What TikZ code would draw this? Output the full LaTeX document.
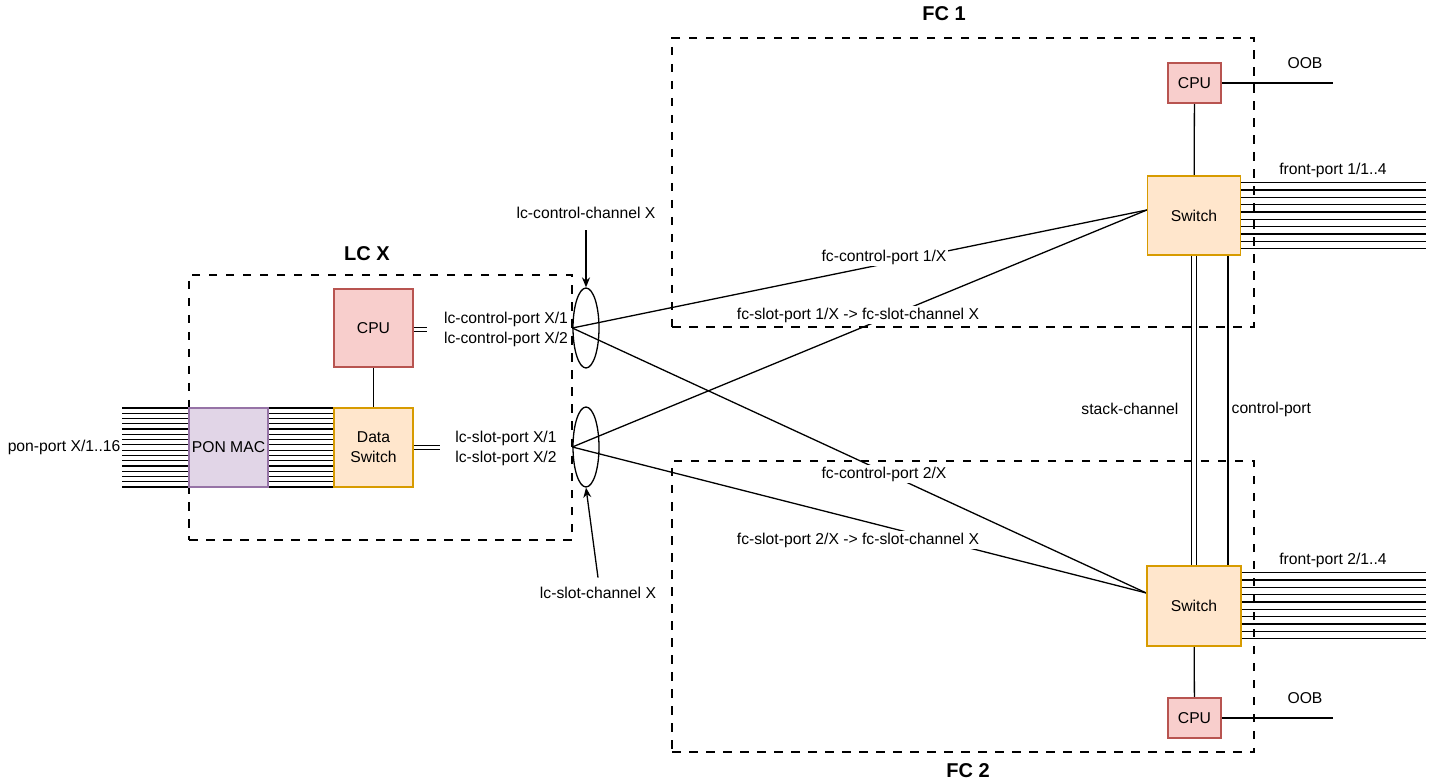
\documentclass[tikz,border=0pt]{standalone}
\usepackage{fontspec}
\setmainfont{Liberation Sans}
\usetikzlibrary{shapes.geometric,arrows.meta,calc}
\definecolor{cpufill}{HTML}{F8CECC}
\definecolor{cpudraw}{HTML}{B85450}
\definecolor{swfill}{HTML}{FFE6CC}
\definecolor{swdraw}{HTML}{D79B00}
\definecolor{ponfill}{HTML}{E1D5E7}
\definecolor{pondraw}{HTML}{9673A6}
\begin{document}
\begin{tikzpicture}[x=1pt,y=-1pt,line width=1.3pt,
  font=\fontsize{15.7}{20}\selectfont,
  group/.style={draw,dash pattern=on 8.5pt off 8.5pt,inner sep=0pt},
  cpubox/.style={draw=cpudraw,fill=cpufill,inner sep=0pt},
  swbox/.style={draw=swdraw,fill=swfill,inner sep=0pt,align=center},
  ponbox/.style={draw=pondraw,fill=ponfill,inner sep=0pt},
  chan/.style={ellipse,draw,inner sep=0pt,minimum width=26pt,minimum height=80pt},
  lbl/.style={inner sep=1pt,align=center},
  elabel/.style={fill=white,inner sep=1.5pt},
  title/.style={font=\fontsize{20}{24}\selectfont\bfseries},
  arr/.style={-{Stealth[length=10pt,width=8pt]}},
  portline/.style={line width=1.2pt}]
\useasboundingbox (0,0) rectangle (1438,783);

% dashed group frames
\node[group,minimum width=383pt,minimum height=265pt] (lcx) at (380.5,407.5) {};
\node[group,minimum width=582pt,minimum height=289pt] (fc1) at (963,182.5) {};
\node[group,minimum width=582pt,minimum height=291pt] (fc2) at (963,606.5) {};
\node[title] (lcxt) at (367,254) {LC X};
\node[title] (fc1t) at (944,14) {FC 1};
\node[title] (fc2t) at (968,771) {FC 2};

% node placement (drawn later on top)
\path node[ponbox,minimum width=79pt,minimum height=79pt] (pon) at (228.5,447.5) {}
      node[swbox,minimum width=79pt,minimum height=79pt] (dsw) at (373.5,447.5) {}
      node[cpubox,minimum width=79pt,minimum height=78pt] (lccpu) at (373.5,328) {}
      node[swbox,minimum width=93pt,minimum height=79pt] (sw1) at (1194,215.5) {}
      node[swbox,minimum width=94pt,minimum height=80pt] (sw2) at (1194,606) {}
      node[cpubox,minimum width=53pt,minimum height=40pt] (cpu1) at (1194.5,83) {}
      node[cpubox,minimum width=53pt,minimum height=40pt] (cpu2) at (1194.5,718) {};

\node[chan] (ell1) at (586,328) {};
\node[chan] (ell2) at (586,447) {};

% PON port bundles
\coordinate (ponfree) at (122,447.5);
\foreach \i in {0,...,15}{
  \draw[portline] ($(ponfree)+(0,-39.5+5.2667*\i)$) -- ($(pon.west)+(0,-39.5+5.2667*\i)$);
  \draw[portline] ($(pon.east)+(0,-39.5+5.2667*\i)$) -- ($(dsw.west)+(0,-39.5+5.2667*\i)$);
}
\node[lbl,anchor=east] (ponlbl) at (ponfree) {pon-port X/1..16};

% LC internal
\draw (lccpu) -- (dsw);
\coordinate (cpuout) at (427,329.7);
\coordinate (dswout) at (440,447.8);
\foreach \d in {-2,2}{
  \draw ($(lccpu.east)+(0,1.7+\d)$) -- ($(cpuout)+(0,\d)$);
  \draw ($(dsw.east)+(0,0.3+\d)$) -- ($(dswout)+(0,\d)$);
}
\node[lbl] (lccp) at (506,329) {lc-control-port X/1\\lc-control-port X/2};
\node[lbl] (lcsp) at (506,448) {lc-slot-port X/1\\lc-slot-port X/2};

% channel arrows
\node[lbl] (lccc) at (586,213) {lc-control-channel X};
\node[lbl] (lcsc) at (598,593) {lc-slot-channel X};
\draw[arr] (lccc.south) ++(0,10) -- (ell1.north);
\draw[arr] ($(lcsc.north)+(0,-8)$) -- (ell2.south);

% links LC <-> FC
\coordinate (sw1in) at ($(sw1.west)+(0,-5.5)$);
\coordinate (sw2in) at ($(sw2.west)+(0,-13)$);
\draw (ell1.west) -- (sw1in);
\draw (ell1.west) -- (sw2in);
\draw (ell2.west) -- (sw1in);
\draw (ell2.west) -- (sw2in);
\node[elabel] (l1) at (884,257) {fc-control-port 1/X};
\node[elabel] (l2) at (858,315) {fc-slot-port 1/X -> fc-slot-channel X};
\node[elabel] (l3) at (884,474) {fc-control-port 2/X};
\node[elabel] (l4) at (858,540) {fc-slot-port 2/X -> fc-slot-channel X};

% FC internal
\draw (cpu1) -- (sw1);
\draw (cpu2) -- (sw2);
\coordinate (oob1) at (1333,83);
\coordinate (oob2) at (1333,718);
\draw (cpu1.east) -- (oob1);
\draw (cpu2.east) -- (oob2);
\node[lbl] (oob1t) at (1305,63) {OOB};
\node[lbl] (oob2t) at (1305,698) {OOB};

% stack channel and control port
\foreach \xx in {1191.7,1196.7}{
  \draw (sw1.south -| \xx,0) -- (sw2.north -| \xx,0);
}
\draw (sw1.south -| 1228,0) -- (sw2.north -| 1228,0);
\node[lbl,anchor=east] (stk) at (1180,409) {stack-channel};
\node[lbl,anchor=west] (ctl) at (1230,409) {control-port};

% front ports
\coordinate (fp1) at (1426,215.7);
\coordinate (fp2) at (1426,605.7);
\foreach \i in {0,...,9}{
  \draw[portline] ($(sw1.east |- fp1)+(0,-33+7.333*\i)$) -- ($(fp1)+(0,-33+7.333*\i)$);
  \draw[portline] ($(sw2.east |- fp2)+(0,-33+7.333*\i)$) -- ($(fp2)+(0,-33+7.333*\i)$);
}
\node[lbl] (fp1t) at (1333,170) {front-port 1/1..4};
\node[lbl] (fp2t) at (1333,560) {front-port 2/1..4};

% filled nodes on top
\node[ponbox,minimum width=79pt,minimum height=79pt] at (pon) {PON MAC};
\node[swbox,minimum width=79pt,minimum height=79pt] at (dsw) {Data\\Switch};
\node[cpubox,minimum width=79pt,minimum height=78pt] at (lccpu) {CPU};
\node[swbox,minimum width=93pt,minimum height=79pt] at (sw1) {Switch};
\node[swbox,minimum width=94pt,minimum height=80pt] at (sw2) {Switch};
\node[cpubox,minimum width=53pt,minimum height=40pt] at (cpu1) {CPU};
\node[cpubox,minimum width=53pt,minimum height=40pt] at (cpu2) {CPU};
\end{tikzpicture}
\end{document}
